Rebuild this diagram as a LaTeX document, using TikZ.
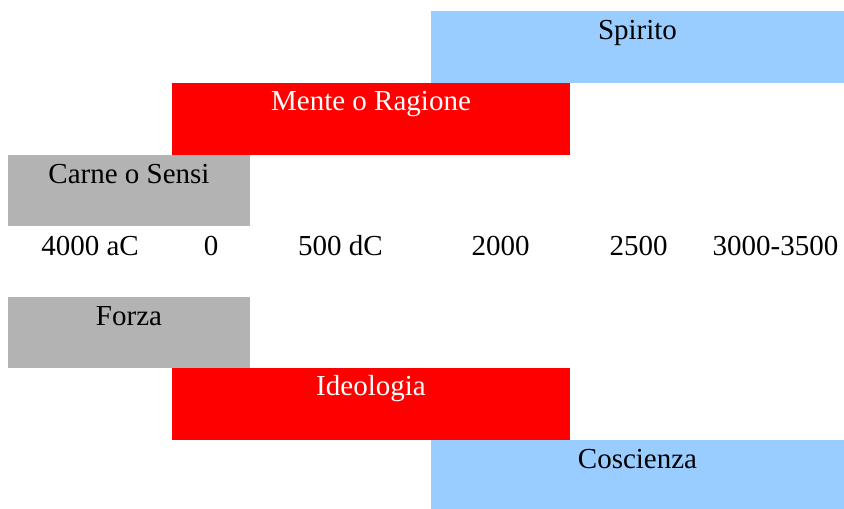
\documentclass[tikz,border=0pt]{standalone}
\usepackage{fontspec}
\setmainfont{Liberation Serif}
\definecolor{gbox}{HTML}{B3B3B3}
\definecolor{rbox}{HTML}{FF0000}
\definecolor{bbox}{HTML}{99CCFF}
\tikzset{
  bar/.style={draw=none, inner sep=0pt, outer sep=0pt, anchor=north west},
  txt/.style={inner sep=0pt, anchor=base, font=\fontsize{29}{34}\selectfont},
}
\begin{document}
\begin{tikzpicture}[x=1pt, y=-1pt]
\useasboundingbox (0,0) rectangle (844,509);
% upper
\node[bar, fill=bbox, minimum width=413pt, minimum height=72pt] (spirito) at (431,11) {};
\node[bar, fill=rbox, minimum width=398pt, minimum height=72pt] (mente) at (172,83) {};
\node[bar, fill=gbox, minimum width=242pt, minimum height=71pt] (carne) at (8,155) {};
\node[txt] (tspirito) at ([yshift=-28pt]spirito.north) {Spirito};
\node[txt, text=white] (tmente) at ([yshift=-27pt]mente.north) {Mente o Ragione};
\node[txt] (tcarne) at ([yshift=-28pt]carne.north) {Carne o Sensi};
% timeline
\node[txt] (l1) at (90,255) {4000 aC};
\node[txt] (l2) at (211,255) {0};
\node[txt] (l3) at (340.5,255) {500 dC};
\node[txt] (l4) at (500.5,255) {2000};
\node[txt] (l5) at (638.5,255) {2500};
\node[txt] (l6) at (775.5,255) {3000-3500};
% lower
\node[bar, fill=gbox, minimum width=242pt, minimum height=71pt] (forza) at (8,297) {};
\node[bar, fill=rbox, minimum width=398pt, minimum height=72pt] (ideo) at (172,368) {};
\node[bar, fill=bbox, minimum width=413pt, minimum height=69pt] (cosc) at (431,440) {};
\node[txt] (tforza) at ([yshift=-28pt]forza.north) {Forza};
\node[txt, text=white] (tideo) at ([yshift=-27pt]ideo.north) {Ideologia};
\node[txt] (tcosc) at ([yshift=-28pt]cosc.north) {Coscienza};
\end{tikzpicture}
\end{document}
